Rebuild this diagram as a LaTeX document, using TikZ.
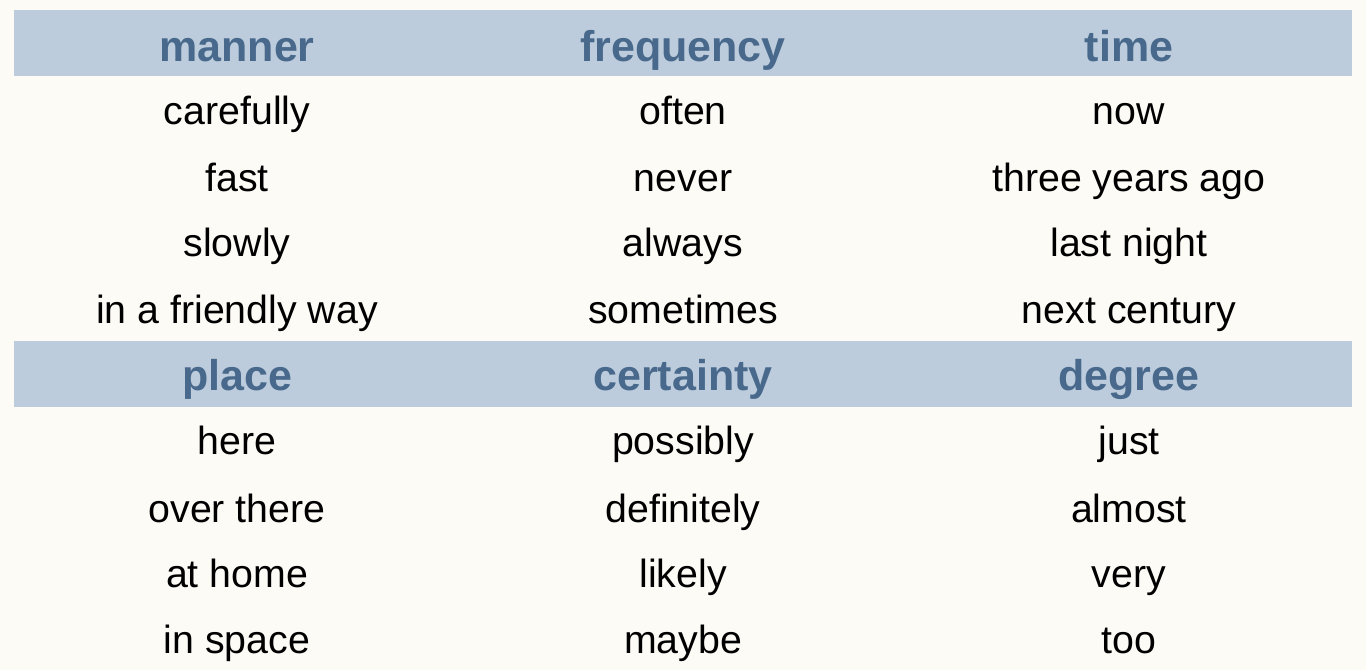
\documentclass[tikz,border=0pt]{standalone}
\usepackage{fontspec}
\setmainfont{Liberation Sans}
\usepackage{tikz}
\definecolor{paper}{HTML}{FCFBF6}
\definecolor{band}{HTML}{BCCCDC}
\definecolor{headtext}{HTML}{48698C}
\tikzset{
	head/.style={anchor=base, text=headtext, font=\fontsize{43}{43}\selectfont\bfseries},
	word/.style={anchor=base, text=black, font=\fontsize{39.3}{39.3}\selectfont}
}
\begin{document}
\begin{tikzpicture}[x=1pt, y=-1pt]
		\fill[paper] (0, 0) rectangle (1366, 670);
		\useasboundingbox (0, 0) rectangle (1366, 670);
		\fill[band] (14, 10) rectangle (1352, 76);
		\fill[band] (14, 341) rectangle (1352, 407);

		\draw 
		(237, 61) node [head] (manner) {manner}
		(683, 61) node [head] (frequency) {frequency}
		(1129, 61) node [head] (time) {time};

		\draw 
		(237, 124) node [word] (M1) {carefully}
		(237, 191) node [word] (M2) {fast}
		(237, 256) node [word] (M3) {slowly}
		(237, 323) node [word] (M4) {in a friendly way};

		\draw 
		(683, 124) node [word] (F1) {often}
		(683, 191) node [word] (F2) {never}
		(683, 256) node [word] (F3) {always}
		(683, 323) node [word] (F4) {sometimes};

		\draw 
		(1129, 124) node [word] (T1) {now}
		(1129, 191) node [word] (T2) {three years ago}
		(1129, 256) node [word] (T3) {last night}
		(1129, 323) node [word] (T4) {next century};

		\draw 
		(237, 390) node [head] (place) {place}
		(683, 390) node [head] (certainty) {certainty}
		(1129, 390) node [head] (degree) {degree};

		\draw 
		(237, 454) node [word] (P1) {here}
		(237, 522) node [word] (P2) {over there}
		(237, 587) node [word] (P3) {at home}
		(237, 653) node [word] (P4) {in space};

		\draw 
		(683, 454) node [word] (C1) {possibly}
		(683, 522) node [word] (C2) {definitely}
		(683, 587) node [word] (C3) {likely}
		(683, 653) node [word] (C4) {maybe};

		\draw 
		(1129, 454) node [word] (D1) {just}
		(1129, 522) node [word] (D2) {almost}
		(1129, 587) node [word] (D3) {very}
		(1129, 653) node [word] (D4) {too};
	\end{tikzpicture}
\end{document}
